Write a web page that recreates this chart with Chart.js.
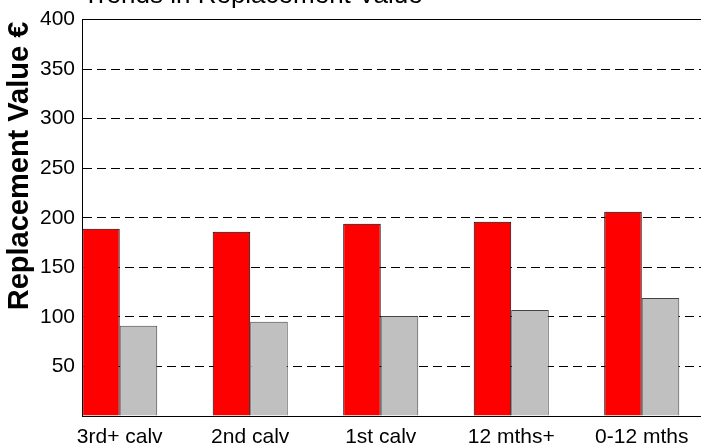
<!DOCTYPE html>
<html>
<head>
<meta charset="utf-8">
<script src="https://cdn.jsdelivr.net/npm/chart.js@4/dist/chart.umd.min.js"></script>
<style>
  body { margin: 0; background: #fff; }
  #wrap { width: 701px; height: 446px; }
</style>
</head>
<body>
<div id="wrap"><canvas id="replacement_chart" width="701" height="446"></canvas></div>
<script>
const categories = ['3rd+ calv', '2nd calv', '1st calv', '12 mths+', '0-12 mths'];
const currentValues = [189, 186, 194, 196, 206];
const previousValues = [91, 95, 101, 107, 119];
const yTicks = [50, 100, 150, 200, 250, 300, 350, 400];

const fontFamily = '"Liberation Sans", Arial, sans-serif';

// title + rotated axis label, placed by hand like the original
const labelsPlugin = {
    id: 'labels',
    afterDraw(chart) {
        const ctx = chart.ctx;
        ctx.save();
        ctx.fillStyle = '#000';
        ctx.font = '26px ' + fontFamily;
        ctx.textAlign = 'left';
        ctx.textBaseline = 'alphabetic';
        ctx.fillText('Trends in Replacement Value', 83, 3);

        ctx.font = 'bold 29px ' + fontFamily;
        ctx.translate(28, 166);
        ctx.rotate(-Math.PI / 2);
        ctx.textAlign = 'center';
        ctx.fillText('Replacement Value \u20ac', 0, 0);
        ctx.restore();
    }
};

function toPoints(values) {
    return values.map((v, i) => ({ x: i, y: v }));
}

const replacement_data = {
    datasets: [{
        label: 'Replacement value',
        data: toPoints(currentValues),
        backgroundColor: '#ff0000',
        borderColor: '#000000',
        borderWidth: 1
    }, {
        label: 'Previous',
        data: toPoints(previousValues),
        backgroundColor: '#c0c0c0',
        borderColor: '#444444',
        borderWidth: 1
    }]
};

const bar_config = {
    type: 'bar',
    data: replacement_data,
    options: {
        responsive: false,
        animation: false,
        categoryPercentage: 0.575,
        barPercentage: 1.0,
        layout: { padding: { top: 16, left: 0, right: 0, bottom: 0 } },
        plugins: {
            legend: { display: false },
            title: { display: false },
            tooltip: { enabled: false }
        },
        scales: {
            x: {
                type: 'linear',
                offset: false,
                min: -0.289,
                max: 4.454,
                afterBuildTicks: scale => {
                    scale.ticks = categories.map((c, i) => ({ value: i }));
                },
                afterFit: scale => { scale.height = 30; },
                grid: { display: false, drawTicks: false, offset: false },
                border: { display: true, color: '#000', width: 1 },
                ticks: {
                    padding: 9,
                    color: '#000',
                    font: { family: fontFamily, size: 21 },
                    maxRotation: 0,
                    autoSkip: false,
                    callback: v => categories[v] ?? ''
                }
            },
            y: {
                min: 0,
                max: 400,
                afterBuildTicks: scale => {
                    scale.ticks = [0].concat(yTicks).map(v => ({ value: v }));
                },
                afterFit: scale => { scale.width = 82; },
                grid: { color: '#000', lineWidth: 1, drawTicks: false },
                border: {
                    display: true,
                    color: '#000',
                    width: 1,
                    dash: ctx => (ctx.tick && ctx.tick.value !== 400) ? [9, 5] : []
                },
                ticks: {
                    padding: 7,
                    color: '#000',
                    font: { family: fontFamily, size: 21 },
                    callback: v => v === 0 ? '' : v
                }
            }
        }
    },
    plugins: [labelsPlugin]
};

new Chart(document.getElementById('replacement_chart'), bar_config);
</script>
</body>
</html>
